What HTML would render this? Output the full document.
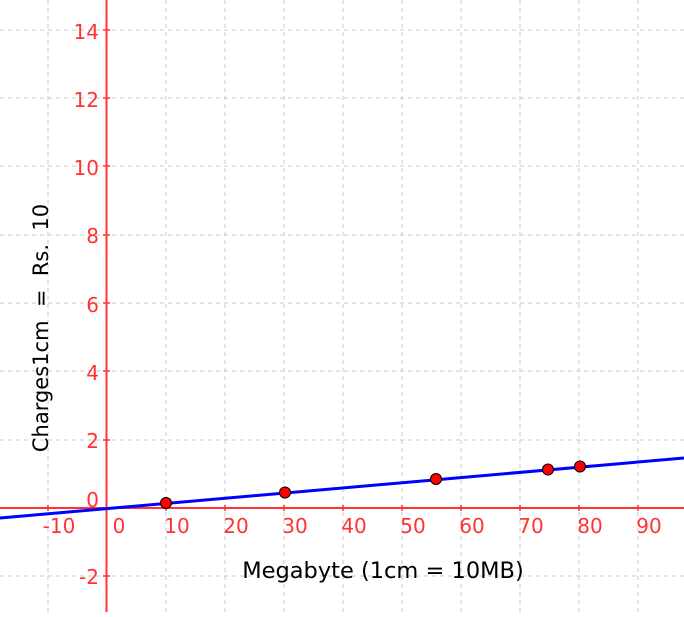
<!DOCTYPE html><html><head><style>body{margin:0;background:#fff}</style></head><body>
<svg width="684" height="612" xmlns="http://www.w3.org/2000/svg" font-family="DejaVu Sans, sans-serif">
<g stroke="#c8c8c8" stroke-dasharray="4,4" stroke-width="1">
<line x1="48" y1="0" x2="48" y2="612"/><line x1="166" y1="0" x2="166" y2="612"/><line x1="225" y1="0" x2="225" y2="612"/><line x1="284" y1="0" x2="284" y2="612"/><line x1="343" y1="0" x2="343" y2="612"/><line x1="402" y1="0" x2="402" y2="612"/><line x1="461" y1="0" x2="461" y2="612"/><line x1="520" y1="0" x2="520" y2="612"/><line x1="579" y1="0" x2="579" y2="612"/><line x1="638" y1="0" x2="638" y2="612"/>
<line x1="0" y1="30" x2="684" y2="30"/><line x1="0" y1="98" x2="684" y2="98"/><line x1="0" y1="166" x2="684" y2="166"/><line x1="0" y1="235" x2="684" y2="235"/><line x1="0" y1="303" x2="684" y2="303"/><line x1="0" y1="371" x2="684" y2="371"/><line x1="0" y1="440" x2="684" y2="440"/><line x1="0" y1="576" x2="684" y2="576"/>
</g>
<g stroke="#ff3333" stroke-width="2">
<line x1="106.5" y1="0" x2="106.5" y2="612"/><line x1="0" y1="508" x2="684" y2="508"/>
</g>
<g stroke="#ff3333" stroke-width="1.5">
<line x1="48" y1="505" x2="48" y2="511"/><line x1="166" y1="505" x2="166" y2="511"/><line x1="225" y1="505" x2="225" y2="511"/><line x1="284" y1="505" x2="284" y2="511"/><line x1="343" y1="505" x2="343" y2="511"/><line x1="402" y1="505" x2="402" y2="511"/><line x1="461" y1="505" x2="461" y2="511"/><line x1="520" y1="505" x2="520" y2="511"/><line x1="579" y1="505" x2="579" y2="511"/><line x1="638" y1="505" x2="638" y2="511"/>
<line x1="103" y1="30" x2="110" y2="30"/><line x1="103" y1="98" x2="110" y2="98"/><line x1="103" y1="166" x2="110" y2="166"/><line x1="103" y1="235" x2="110" y2="235"/><line x1="103" y1="303" x2="110" y2="303"/><line x1="103" y1="371" x2="110" y2="371"/><line x1="103" y1="440" x2="110" y2="440"/><line x1="103" y1="576" x2="110" y2="576"/>
</g>
<g fill="#ff3333" font-size="20" text-anchor="middle">
<text x="59" y="533">-10</text><text x="119" y="533">0</text><text x="177" y="533">10</text><text x="236" y="533">20</text><text x="295" y="533">30</text><text x="354" y="533">40</text><text x="413" y="533">50</text><text x="472" y="533">60</text><text x="531" y="533">70</text><text x="590" y="533">80</text><text x="649" y="533">90</text>
</g>
<g fill="#ff3333" font-size="20" text-anchor="end">
<text x="99" y="39">14</text><text x="99" y="107">12</text><text x="99" y="175">10</text><text x="99" y="243">8</text><text x="99" y="312">6</text><text x="99" y="380">4</text><text x="99" y="448">2</text><text x="99" y="507">0</text><text x="99" y="584">-2</text>
</g>
<line x1="0" y1="518" x2="684" y2="458" stroke="#0000ff" stroke-width="3"/>
<g fill="#ff0000" stroke="#000" stroke-width="1">
<circle cx="166" cy="503" r="5.5"/><circle cx="285" cy="492.5" r="5.5"/><circle cx="436" cy="479" r="5.5"/><circle cx="548" cy="469.5" r="5.5"/><circle cx="580" cy="466.5" r="5.5"/>
</g>
<text x="383" y="578" font-size="22.5" text-anchor="middle" fill="#000">Megabyte (1cm = 10MB)</text>
<text transform="translate(48,328) rotate(-90)" font-size="21" text-anchor="middle" fill="#000" xml:space="preserve">Charges1cm  =  Rs.  10</text>
</svg>
</body></html>
